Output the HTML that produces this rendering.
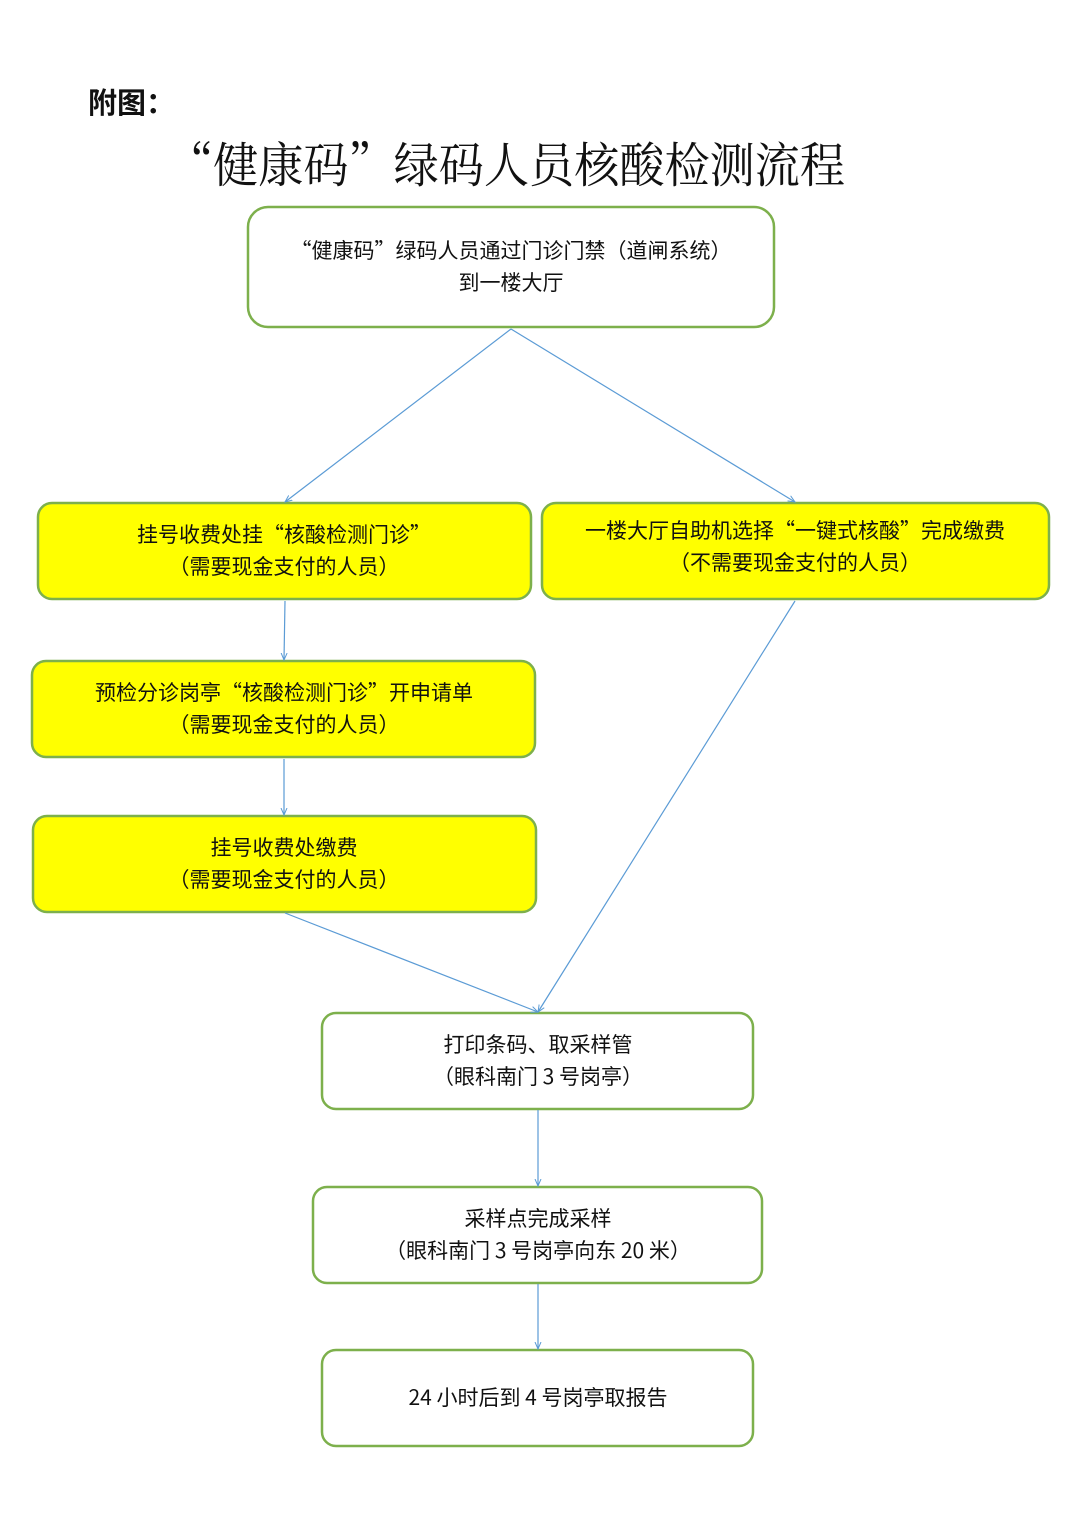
<!DOCTYPE html>
<html><head><meta charset="utf-8"><style>
html,body{margin:0;padding:0;background:#fff;}
svg{display:block;}
.t{font-family:"Noto Sans CJK SC",sans-serif;font-size:21px;fill:#111;text-anchor:middle;}
</style></head><body>
<svg width="1080" height="1528" viewBox="0 0 1080 1528" xmlns="http://www.w3.org/2000/svg">
<defs><marker id="a" markerWidth="8" markerHeight="8" refX="7" refY="4" orient="auto" markerUnits="userSpaceOnUse"><path d="M0,1 L7,4 L0,7" fill="none" stroke="#5b9bd5" stroke-width="1"/></marker></defs>
<text x="88" y="113" style="font-family:'Noto Sans CJK SC',sans-serif;font-size:29px;font-weight:bold;fill:#111">附图：</text>
<text x="168" y="182" style="font-family:'Noto Serif CJK SC',serif;font-size:48px;fill:#111;" textLength="677" lengthAdjust="spacingAndGlyphs">“健康码”绿码人员核酸检测流程</text>
<g stroke="#7db04c" stroke-width="2.5">
<rect x="248" y="207" width="526" height="120" rx="20" fill="#fff"/>
<rect x="38" y="503" width="493" height="96" rx="14" fill="#ffff00"/>
<rect x="542" y="503" width="507" height="96" rx="14" fill="#ffff00"/>
<rect x="32" y="661" width="503" height="96" rx="14" fill="#ffff00"/>
<rect x="33" y="816" width="503" height="96" rx="14" fill="#ffff00"/>
<rect x="322" y="1013" width="431" height="96" rx="14" fill="#fff"/>
<rect x="313" y="1187" width="449" height="96" rx="14" fill="#fff"/>
<rect x="322" y="1350" width="431" height="96" rx="14" fill="#fff"/>
</g>
<g stroke="#5b9bd5" stroke-width="1.2" fill="none" marker-end="url(#a)">
<line x1="511" y1="329" x2="285" y2="502"/>
<line x1="511" y1="329" x2="795" y2="502"/>
<line x1="285" y1="601" x2="284" y2="660"/>
<line x1="284" y1="759" x2="284" y2="815"/>
<line x1="285" y1="913" x2="538" y2="1012"/>
<line x1="795" y1="601" x2="538" y2="1012"/>
<line x1="538" y1="1110" x2="538" y2="1186"/>
<line x1="538" y1="1284" x2="538" y2="1349"/>
</g>
<text class="t" x="511" y="258">“健康码”绿码人员通过门诊门禁（道闸系统）</text>
<text class="t" x="511" y="290">到一楼大厅</text>
<text class="t" x="284" y="542">挂号收费处挂“核酸检测门诊”</text>
<text class="t" x="284" y="574">（需要现金支付的人员）</text>
<text class="t" x="795" y="538">一楼大厅自助机选择“一键式核酸”完成缴费</text>
<text class="t" x="795" y="570">（不需要现金支付的人员）</text>
<text class="t" x="284" y="700">预检分诊岗亭“核酸检测门诊”开申请单</text>
<text class="t" x="284" y="732">（需要现金支付的人员）</text>
<text class="t" x="284" y="855">挂号收费处缴费</text>
<text class="t" x="284" y="887">（需要现金支付的人员）</text>
<text class="t" x="538" y="1052">打印条码、取采样管</text>
<text class="t" x="538" y="1084">（眼科南门 3 号岗亭）</text>
<text class="t" x="538" y="1226">采样点完成采样</text>
<text class="t" x="538" y="1258">（眼科南门 3 号岗亭向东 20 米）</text>
<text class="t" x="538" y="1405">24 小时后到 4 号岗亭取报告</text>
</svg>
</body></html>
